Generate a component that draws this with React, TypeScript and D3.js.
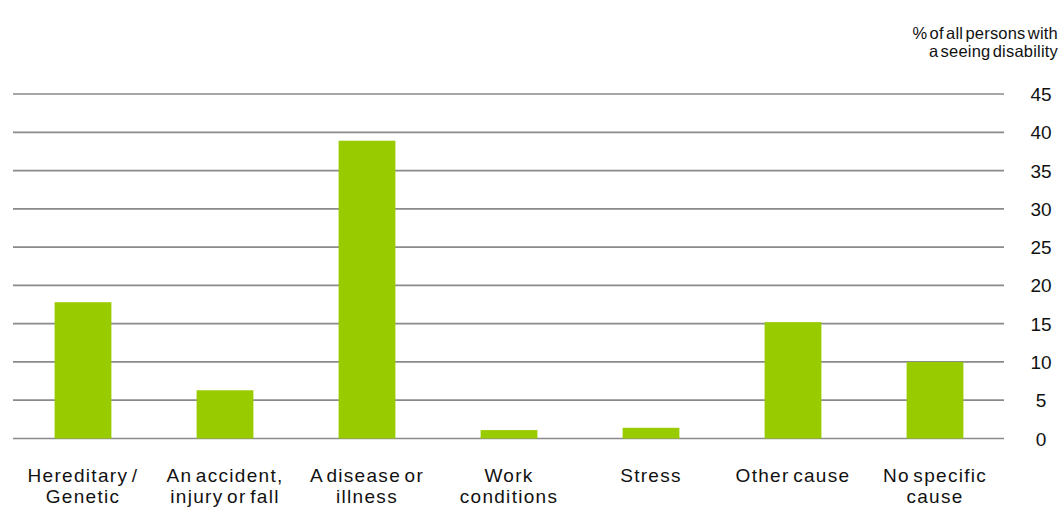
import * as d3 from 'd3';
import React from 'react';

const categories = [
  ['Hereditary /', 'Genetic'],
  ['An accident,', 'injury or fall'],
  ['A disease or', 'illness'],
  ['Work', 'conditions'],
  ['Stress'],
  ['Other cause'],
  ['No specific', 'cause'],
];
const values = [17.8, 6.3, 38.9, 1.1, 1.4, 15.2, 10.0];
const yTicks = [0, 5, 10, 15, 20, 25, 30, 35, 40, 45];
const axisTitle = ['% of all persons with', 'a seeing disability'];

const W = 1064;
const H = 508;
const font = '"Liberation Sans", Arial, sans-serif';

export default function App() {
  const keys = categories.map((c) => c.join(' '));
  const x = d3.scaleBand().domain(keys).range([12, 1006]).paddingInner(0.6).paddingOuter(0.3);
  const y = d3.scaleLinear().domain([0, 45]).range([438.5, 94]);

  return (
    <svg
      width={W}
      height={H}
      style={{ position: 'absolute', left: 0, top: 0, background: '#fff' }}
      fontFamily={font}
    >
      {/* gridlines */}
      {yTicks.map((t) => (
        <line key={t} x1={13} x2={1004} y1={y(t)} y2={y(t)} stroke="#8a8a8a" strokeWidth={1.7} />
      ))}
      {/* tick labels */}
      {yTicks.map((t) => (
        <text key={'l' + t} x={1041} y={y(t) + 7} textAnchor="middle" fontSize={19} fill="#111">
          {t}
        </text>
      ))}
      {/* bars */}
      {values.map((v, i) => (
        <rect
          key={keys[i]}
          x={x(keys[i])}
          y={y(v)}
          width={x.bandwidth()}
          height={y(0) - y(v)}
          fill="#99cc00"
        />
      ))}
      {/* category labels */}
      {categories.map((lines, i) => (
        <text
          key={'c' + i}
          x={(x(keys[i]) as number) + x.bandwidth() / 2}
          y={482}
          textAnchor="middle"
          fontSize={19}
          letterSpacing={1.3}
          wordSpacing={-3}
          fill="#111"
        >
          {lines.map((s, j) => (
            <tspan key={j} x={(x(keys[i]) as number) + x.bandwidth() / 2} dy={j === 0 ? 0 : 21}>
              {s}
            </tspan>
          ))}
        </text>
      ))}
      {/* axis title */}
      <text x={1058} y={39} textAnchor="end" fontSize={16.5} letterSpacing={0.2} wordSpacing={-2.5} fill="#111">
        <tspan x={1058} dy={0}>{axisTitle[0]}</tspan>
        <tspan x={1058} dy={18}>{axisTitle[1]}</tspan>
      </text>
    </svg>
  );
}
